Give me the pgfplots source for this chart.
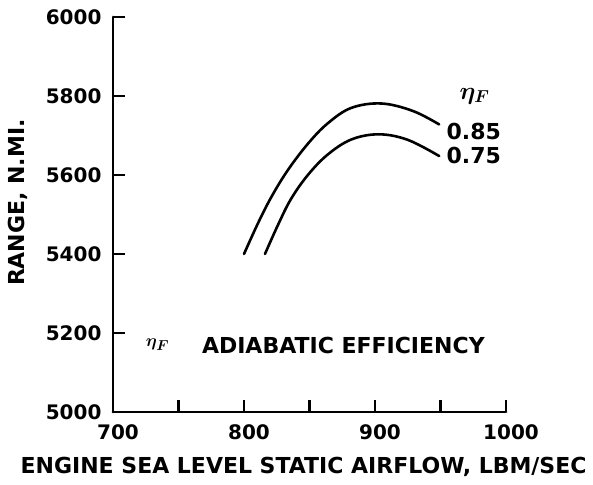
\documentclass[border=0pt]{standalone}
\usepackage{fontspec}
\setmainfont{DejaVu Sans}
\usepackage{pgfplots}
\pgfplotsset{compat=1.18}
\newcommand{\tf}{\bfseries\fontsize{20}{20}\selectfont}
\newcommand{\lf}{\bfseries\fontsize{22}{22}\selectfont}
\begin{document}
\begin{tikzpicture}[x=1pt,y=1pt]
\path[use as bounding box] (-113,-72) rectangle (480,412);
\begin{axis}[
  at={(0,0)}, anchor=south west,
  scale only axis, width=393pt, height=395pt,
  xmin=700, xmax=1000, ymin=5000, ymax=6000,
  axis lines*=left,
  axis line style={line width=2.8pt, line cap=round},
  tick style={line width=2.4pt, black},
  major tick length=12pt, tick align=inside,
  xtick={700,750,...,1000}, xticklabels={700,,800,,900,,1000},
  ytick={5000,5200,5400,5600,5800,6000},
  yticklabels={5000,5200,5400,5600,5800,6000},
  ticklabel style={font=\tf},
  xticklabel style={yshift=-9pt, xshift=5pt},
  yticklabel style={xshift=-8pt},
  xlabel={ENGINE SEA LEVEL STATIC AIRFLOW, LBM/SEC},
  ylabel={RANGE, N.MI.},
  label style={font=\lf},
  xlabel style={at={(axis description cs:0.485,0)}, anchor=center, yshift=-55pt},
  ylabel style={at={(axis description cs:0,0.53)}, anchor=center, yshift=95pt},
  clip=false,
]
\addplot[black, line width=2.6pt, smooth, tension=0.6, line cap=round] coordinates {
 (800,5400) (810.7,5478) (821,5545) (833.6,5613) (849,5680) (864,5731)
 (882,5770) (905,5781) (929,5762) (949,5728)
};
\addplot[black, line width=2.6pt, smooth, tension=0.6, line cap=round] coordinates {
 (816,5400) (826,5474) (836,5540) (849,5601) (864,5652) (882,5690)
 (903,5703) (925,5689) (949,5648)
};
\node[font=\fontsize{24}{24}\selectfont\boldmath] at (axis cs:976,5800) {$\eta_{F}$};
\node[font=\lf, anchor=west, inner sep=0pt] at (axis cs:954.5,5711) {0.85};
\node[font=\lf, anchor=west, inner sep=0pt] at (axis cs:954.5,5649) {0.75};
\node[font=\fontsize{19}{19}\selectfont\boldmath] at (axis cs:734,5170) {$\eta_{F}$};
\node[font=\lf, anchor=west, inner sep=0pt] at (axis cs:767.8,5168) {ADIABATIC EFFICIENCY};
\end{axis}
\end{tikzpicture}
\end{document}
